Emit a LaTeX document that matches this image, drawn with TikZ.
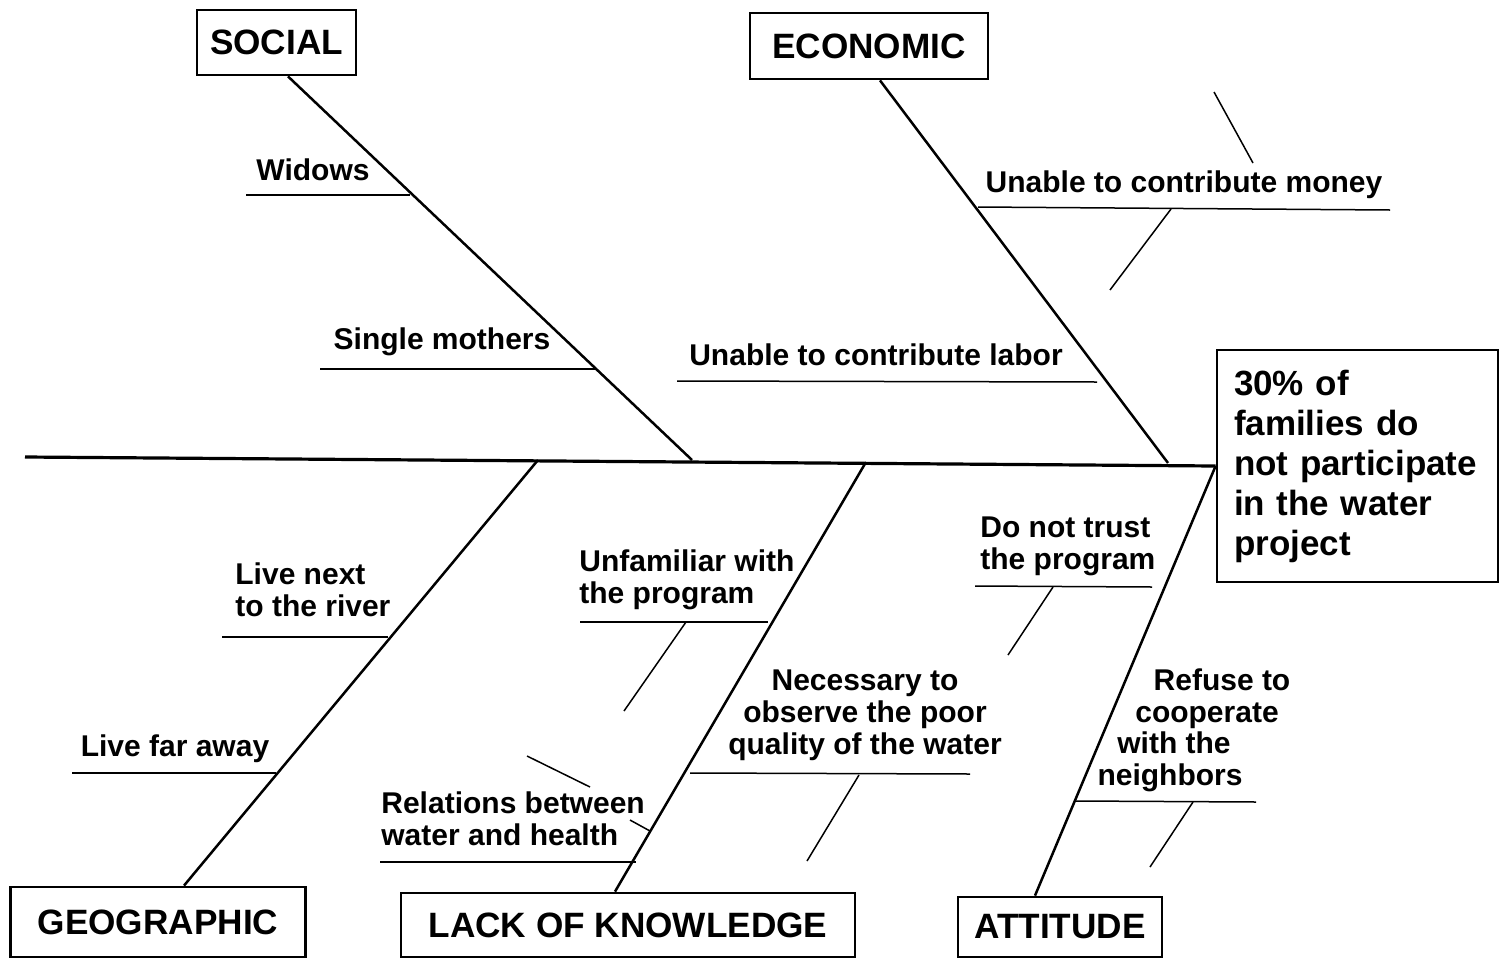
\documentclass[tikz,border=0pt]{standalone}
\usepackage{fontspec}
\setmainfont{Liberation Sans}
\usetikzlibrary{calc}
\begin{document}
\begin{tikzpicture}[x=0.5pt,y=-0.5pt,
  catbox/.style={draw,line width=1.4pt,inner sep=0pt,font=\bfseries\fontsize{17.6}{20}\selectfont},
  lbl/.style={font=\bfseries\fontsize{15}{16}\selectfont,inner sep=0pt},
  spine/.style={line width=1.6pt},
  bone/.style={line width=1.25pt},
  twig/.style={line width=0.75pt},
  ]
\useasboundingbox (0,0) rectangle (1499,959);
% boxes
\node[catbox,minimum width=79.5pt,minimum height=32.5pt] (social) at (276.5,42.5) {SOCIAL};
\node[catbox,minimum width=119pt,minimum height=33pt] (economic) at (869,46) {ECONOMIC};
\node[catbox,minimum width=147.5pt,minimum height=35pt] (geo) at (158,922) {GEOGRAPHIC};
\node[catbox,minimum width=227pt,minimum height=32pt] (know) at (628,925) {LACK OF KNOWLEDGE};
\node[catbox,minimum width=102pt,minimum height=30pt] (att) at (1060,927) {ATTITUDE};
\node[draw,line width=1.4pt,minimum width=140.5pt,minimum height=116pt,text width=123.5pt,align=left,inner xsep=8.5pt,
  font=\bfseries\fontsize{17.5}{20}\selectfont] (effect) at (1357.5,466)
  {30\% of\\families do\\not participate\\in the water\\project};
% spine
\coordinate (spineL) at (25,457);
\draw[spine] (spineL) -- (effect.west);
% bone ends on spine
\coordinate (sEnd) at (692,460);
\coordinate (eEnd) at (1168,463);
\coordinate (gEnd) at (538,460);
\coordinate (kEnd) at (866,462);
\draw[bone] ([xshift=5.75pt]social.south) -- (sEnd);
\draw[bone] ([xshift=5.5pt]economic.south) -- (eEnd);
\draw[bone] ([xshift=13pt]geo.north) -- (gEnd);
\draw[bone] ([xshift=-6.5pt]know.north) -- (kEnd);
\draw[bone] ([xshift=-12.5pt]att.north) -- (effect.west);
% SOCIAL twigs
\coordinate (w1) at (246,195); \coordinate (w2) at (410,195);
\draw[twig] (w1) -- (w2);
\node[lbl,anchor=base] (widows) at (313,180) {Widows};
\coordinate (sm1) at (320,369); \coordinate (sm2) at (597,369);
\draw[twig] (sm1) -- (sm2);
\node[lbl,anchor=base] (single) at (442,349) {Single mothers};
% ECONOMIC twigs
\coordinate (lab1) at (677,381); \coordinate (lab2) at (1097,382);
\draw[twig] (lab1) -- (lab2);
\node[lbl,anchor=base] (labor) at (876,365) {Unable to contribute labor};
\coordinate (mo1) at (978,207); \coordinate (mo2) at (1390,210);
\draw[twig] (mo1) -- (mo2);
\node[lbl,anchor=base] (money) at (1184,192) {Unable to contribute money};
\coordinate (moA) at (1214,92); \coordinate (moB) at (1253,163);
\draw[twig] (moA) -- (moB);
\coordinate (moC) at (1171,209); \coordinate (moD) at (1110,290);
\draw[twig] (moC) -- (moD);
% GEOGRAPHIC twigs
\coordinate (r1) at (222,637); \coordinate (r2) at (388,637);
\draw[twig] (r1) -- (r2);
\node[lbl,anchor=base west,align=left] (river) at (235,616) {Live next\\to the river};
\coordinate (f1) at (72,773); \coordinate (f2) at (276,773);
\draw[twig] (f1) -- (f2);
\node[lbl,anchor=base] (far) at (175,756) {Live far away};
% KNOWLEDGE twigs
\coordinate (u1) at (580,622); \coordinate (u2) at (768,622);
\draw[twig] (u1) -- (u2);
\coordinate (uA) at (686,622); \coordinate (uB) at (624,711);
\draw[twig] (uA) -- (uB);
\node[lbl,anchor=base west,align=left] (unfam) at (579,603) {Unfamiliar with\\the program};
\coordinate (re1) at (380,862); \coordinate (re2) at (636,862);
\draw[twig] (re1) -- (re2);
\coordinate (reA) at (527,756); \coordinate (reB) at (590,787);
\draw[twig] (reA) -- (reB);
\coordinate (reC) at (630,820); \coordinate (reD) at (650,831);
\draw[twig] (reC) -- (reD);
\node[lbl,anchor=base west,align=left] (rel) at (381,845) {Relations between\\water and health};
\coordinate (n1) at (690,773); \coordinate (n2) at (970,774);
\draw[twig] (n1) -- (n2);
\coordinate (nA) at (859,775); \coordinate (nB) at (807,861);
\draw[twig] (nA) -- (nB);
\node[lbl,anchor=base,align=center] (necess) at (865,754) {Necessary to\\observe the poor\\quality of the water};
% ATTITUDE twigs
\coordinate (t1) at (975,586); \coordinate (t2) at (1152,587);
\draw[twig] (t1) -- (t2);
\coordinate (tA) at (1053,587); \coordinate (tB) at (1008,655);
\draw[twig] (tA) -- (tB);
\node[lbl,anchor=base west,align=left] (trust) at (980,569) {Do not trust\\the program};
\coordinate (c1) at (1076,801); \coordinate (c2) at (1256,802);
\draw[twig] (c1) -- (c2);
\coordinate (cA) at (1193,802); \coordinate (cB) at (1150,867);
\draw[twig] (cA) -- (cB);
\node[lbl,anchor=base] (ref1) at (1222,690) {Refuse to};
\node[lbl,anchor=base] (ref2) at (1207,722) {cooperate};
\node[lbl,anchor=base] (ref3) at (1174,753) {with the};
\node[lbl,anchor=base] (ref4) at (1170,785) {neighbors};
\end{tikzpicture}
\end{document}
